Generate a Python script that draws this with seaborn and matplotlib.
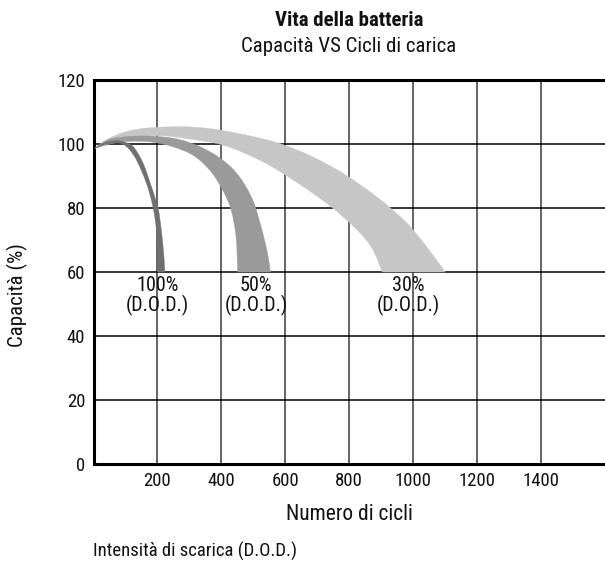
import matplotlib
matplotlib.use("Agg")
import matplotlib.pyplot as plt
from matplotlib.path import Path
from matplotlib.patches import PathPatch
import seaborn as sns

# ---- data (cycles, capacity %) ----
dod_labels = ["100%", "50%", "30%"]

dod100_outer_x = [5, 30, 67, 93, 124, 155, 181, 202, 212, 219.6, 223]
dod100_outer_y = [98.7, 100.2, 101.0, 100.7, 99.2, 94.0, 86.7, 79.9, 73.1, 65.8, 60]
dod100_inner_x = [5, 30, 72, 103, 134.6, 165.7, 186, 196.8, 200, 200]
dod100_inner_y = [98.7, 99.7, 100.4, 99.2, 95.0, 87.7, 80.4, 73.1, 65.8, 60]

dod50_outer_x = [5, 51, 145, 249, 332, 404, 456, 498, 524, 544.5, 553]
dod50_outer_y = [98.7, 101.5, 102.5, 101.8, 99.2, 95.0, 89.8, 82.5, 74.2, 65.8, 60]
dod50_inner_x = [5, 90, 197, 300.6, 363, 404, 430.5, 446, 451]
dod50_inner_y = [98.7, 100.7, 100.4, 97.1, 91.9, 85.6, 79.4, 71.0, 60]

dod30_outer_x = [5, 30, 60, 100, 150, 200, 280, 373, 477, 581, 685, 789, 892, 976, 1038, 1100]
dod30_outer_y = [98.7, 100.6, 102.3, 103.8, 104.8, 105.2, 105.4, 104.7, 102.8, 100.2, 96.0, 90.3, 83.0, 75.7, 68.4, 60]
dod30_inner_x = [5, 40, 100, 200, 269, 404, 529, 633, 737, 820, 871.6, 903]
dod30_inner_y = [98.7, 100.5, 102.0, 102.6, 102.0, 99.7, 94.5, 88.2, 80.9, 73.6, 67.4, 60]

label_x = [201, 509, 986]
label_y = 52.6

x_ticks = [200, 400, 600, 800, 1000, 1200, 1400]
y_ticks = [0, 20, 40, 60, 80, 100, 120]

band_colors = {"100%": "#707070", "50%": "#9a9a9a", "30%": "#c6c6c6"}


def curve_codes(xs, ys, first_code):
    """Bezier (Catmull-Rom) rendering through the given points."""
    pts = list(zip(xs, ys))
    verts = [pts[0]]
    codes = [first_code]
    n = len(pts)
    for i in range(n - 1):
        p0 = pts[i - 1] if i > 0 else pts[i]
        p1 = pts[i]
        p2 = pts[i + 1]
        p3 = pts[i + 2] if i + 2 < n else pts[i + 1]
        c1 = (p1[0] + (p2[0] - p0[0]) / 6.0, p1[1] + (p2[1] - p0[1]) / 6.0)
        c2 = (p2[0] - (p3[0] - p1[0]) / 6.0, p2[1] - (p3[1] - p1[1]) / 6.0)
        verts += [c1, c2, p2]
        codes += [Path.CURVE4] * 3
    return verts, codes


# ---- style ----
sns.set_theme(style="white")
fam = ["Roboto Condensed", "Archivo Narrow", "DejaVu Sans"]
plt.rcParams["font.family"] = fam

fig = plt.figure(figsize=(6.05, 5.65), dpi=100)
ax = fig.add_axes([93.5 / 605, 101 / 565, (605 - 93.5) / 605, (464 - 80) / 565])

bands = [
    ("30%", dod30_outer_x, dod30_outer_y, dod30_inner_x, dod30_inner_y),
    ("50%", dod50_outer_x, dod50_outer_y, dod50_inner_x, dod50_inner_y),
    ("100%", dod100_outer_x, dod100_outer_y, dod100_inner_x, dod100_inner_y),
]
for i, (name, ox, oy, ix, iy) in enumerate(bands):
    c = band_colors[name]
    v1, c1 = curve_codes(ox, oy, Path.MOVETO)
    v2, c2 = curve_codes(ix[::-1], iy[::-1], Path.LINETO)
    verts = v1 + v2 + [v1[0]]
    codes = c1 + c2 + [Path.CLOSEPOLY]
    ax.add_patch(PathPatch(Path(verts, codes), facecolor=c, edgecolor=c, lw=0.3, zorder=3 + i))

# grid
for xv in x_ticks:
    ax.axvline(xv, color="#4a4a4a", lw=1.2, zorder=1)
for yv in y_ticks[1:-1]:
    ax.axhline(yv, color="black", lw=1.1, zorder=1)

ax.set_xlim(0, 1600)
ax.set_ylim(0, 120)
ax.set_xticks(x_ticks)
ax.set_yticks(y_ticks)
ax.tick_params(axis="both", length=0, labelsize=13.5, colors="#111111", pad=6)
ax.set_xlabel("Numero di cicli", fontsize=15.5, labelpad=10, color="#111111")
ax.set_ylabel("Capacità (%)", fontsize=15, color="#111111")
ax.yaxis.set_label_coords(-0.128, 0.44)

for side in ["left", "top", "bottom"]:
    ax.spines[side].set_visible(True)
    ax.spines[side].set_color("black")
    ax.spines[side].set_linewidth(2.2)
ax.spines["right"].set_visible(False)

for lx, lab in zip(label_x, dod_labels):
    ax.text(lx, label_y, lab + "\n(D.O.D.)", ha="center", va="center", multialignment="center",
            linespacing=1.0, fontsize=14.5, color="#111111", zorder=2)

fig.text(349 / 605, 1 - 20 / 565, "Vita della batteria", ha="center", va="center",
         fontsize=15, fontweight="bold", color="#111111")
fig.text(349 / 605, 1 - 46 / 565, "Capacità VS Cicli di carica", ha="center", va="center",
         fontsize=15, color="#111111")
fig.text(93 / 605, 1 - 551 / 565, "Intensità di scarica (D.O.D.)", ha="left", va="center",
         fontsize=13.5, color="#111111")

fig.savefig("out.png", dpi=100)
